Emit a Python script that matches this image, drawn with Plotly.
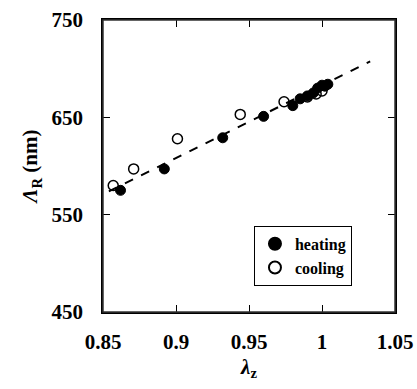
import plotly.graph_objects as go
import numpy as np

heating_x = [0.862, 0.892, 0.932, 0.960, 0.980, 0.985, 0.990, 0.994, 0.997, 1.000, 1.002, 1.004]
heating_y = [575, 597, 629, 651, 662, 669, 672, 675, 680, 683, 682, 684]
cooling_x = [0.857, 0.871, 0.901, 0.944, 0.974, 0.990, 0.996, 1.000]
cooling_y = [580, 597, 628, 653, 666, 671, 674, 677]

fit_slope = 746.0
fit_intercept_at_1 = 682.8
fit_x = [0.854, 1.033]

x_ticks = [0.85, 0.9, 0.95, 1.0, 1.05]
x_ticktext = ["0.85", "0.9", "0.95", "1", "1.05"]
y_ticks = [450, 550, 650, 750]

FONT = "Liberation Serif, Times New Roman, Times, serif"

fit_y = [fit_intercept_at_1 + fit_slope * (x - 1.0) for x in fit_x]

fig = go.Figure()
fig.add_trace(go.Scatter(x=fit_x, y=fit_y, mode="lines",
                         line=dict(color="black", width=2, dash="dash"),
                         showlegend=False, hoverinfo="skip"))
fig.add_trace(go.Scatter(x=heating_x, y=heating_y, mode="markers", name="heating",
                         marker=dict(symbol="circle", size=10, color="black",
                                     line=dict(color="black", width=1))))
fig.add_trace(go.Scatter(x=cooling_x, y=cooling_y, mode="markers", name="cooling",
                         marker=dict(symbol="circle-open", size=10, color="black",
                                     line=dict(color="black", width=1.5))))

axis_common = dict(showline=True, linecolor="black", linewidth=1.5, mirror="all",
                   ticks="inside", ticklen=7, tickcolor="black", tickwidth=1,
                   showgrid=False, zeroline=False, automargin=False,
                   tickfont=dict(family=FONT, size=21, color="black", weight="bold"))

fig.update_xaxes(range=[0.85, 1.05], tickvals=x_ticks, ticktext=x_ticktext,
                 title=dict(text="<i>λ</i><sub>z</sub>",
                            font=dict(family=FONT, size=21, color="black", weight="bold"), standoff=6),
                 ticklabelstandoff=10, **axis_common)
fig.update_yaxes(range=[450, 750], tickvals=y_ticks,
                 title=dict(text="<i>Λ</i><sub>R</sub> (nm)",
                            font=dict(family=FONT, size=21, color="black", weight="bold"), standoff=8),
                 ticklabelstandoff=14, **axis_common)

fig.add_shape(type="rect", xref="paper", yref="paper", x0=0, y0=0, x1=1, y1=1,
              line=dict(color="#333333", width=1.5), fillcolor="rgba(0,0,0,0)", layer="above")

fig.update_layout(
    width=417, height=389,
    margin=dict(l=103, r=22, t=20, b=77),
    paper_bgcolor="white", plot_bgcolor="white",
    font=dict(family=FONT, color="black"),
    legend=dict(x=0.517, y=0.295, xanchor="left", yanchor="top",
                bordercolor="black", borderwidth=1, bgcolor="white",
                font=dict(family=FONT, size=16, color="black", weight="bold"),
                itemsizing="constant", tracegroupgap=0),
)

fig.write_html("out.html", config={"displayModeBar": False},
               post_script="document.body.style.margin='0';document.body.style.overflow='hidden';")
